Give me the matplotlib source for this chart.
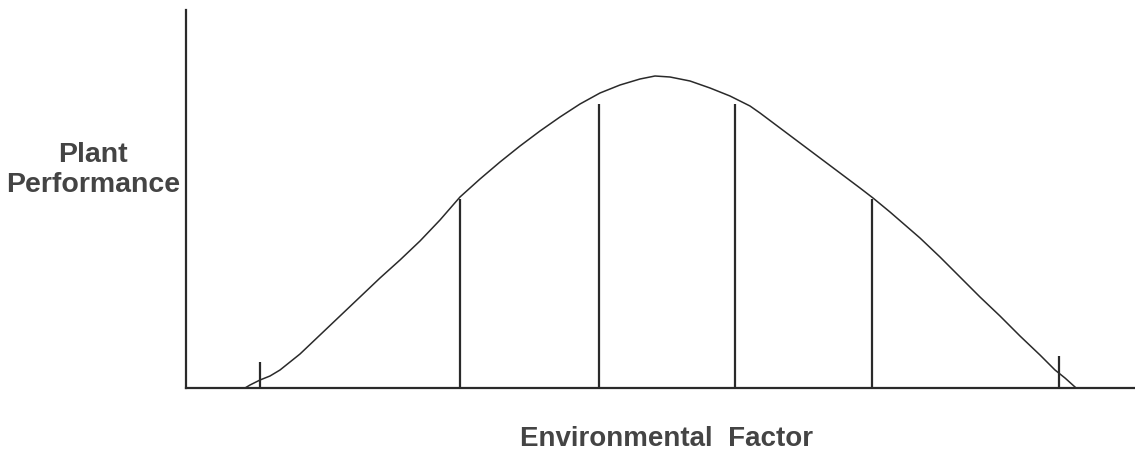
import numpy as np
import matplotlib.pyplot as plt

# curve (x, y in plot units)
curve_x = [59, 64, 74, 84, 94, 104, 114, 134, 154, 174, 194, 214, 234, 254, 274, 294, 314,
           334, 354, 374, 394, 414, 434, 454, 469, 484, 504, 524, 544, 564, 574, 594, 614,
           634, 654, 674, 687, 704, 734, 754, 774, 794, 814, 834, 854, 869, 879, 889]
curve_y = [0, 3, 8, 12, 18, 26, 34, 53, 72, 91, 110, 128, 147, 168, 191, 209, 226,
           242, 257, 271, 284, 295, 303, 309, 312, 311, 307, 300, 292, 282, 275, 260, 245,
           230, 215, 200, 190, 176, 150, 131, 111, 91, 72, 52, 33, 18, 10, 1]

# vertical markers
mark_x = [74, 274, 413, 549, 686, 873]
mark_h = [26, 189, 284, 284, 189, 32]

fig = plt.figure(figsize=(11.35, 4.52), dpi=100)
ax = fig.add_axes([186 / 1135, 63 / 452, 949 / 1135, 378 / 452])
ax.set_xlim(0, 949)
ax.set_ylim(0, 378)

ax.plot(curve_x, curve_y, color='#2a2a2a', lw=1.1, solid_joinstyle='round')
ax.vlines(mark_x, 0, mark_h, color='#2a2a2a', lw=1.6)

for s in ['top', 'right']:
    ax.spines[s].set_visible(False)
for s in ['left', 'bottom']:
    ax.spines[s].set_linewidth(1.6)
    ax.spines[s].set_color('#2a2a2a')
ax.set_xticks([])
ax.set_yticks([])

fig.text(93 / 1135, 1 - 170 / 452, 'Plant\nPerformance', ha='center', va='center',
         fontsize=20.5, weight='bold', family='Liberation Sans', color='#444444',
         linespacing=1.25)
fig.text(667 / 1135, 1 - 439 / 452, 'Environmental  Factor', ha='center', va='center',
         fontsize=20, weight='bold', family='Liberation Sans', color='#444444')

fig.savefig('out.png', dpi=100, facecolor='white')
